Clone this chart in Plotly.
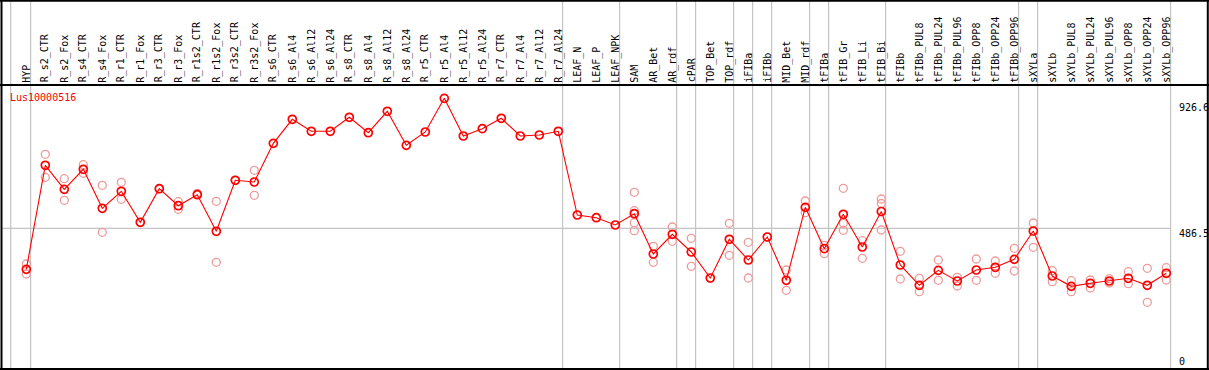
import plotly.graph_objects as go

# ---------------- data ----------------
categories = [
    "HYP", "R_s2_CTR", "R_s2_Fox", "R_s4_CTR", "R_s4_Fox", "R_r1_CTR", "R_r1_Fox",
    "R_r3_CTR", "R_r3_Fox", "R_r1s2_CTR", "R_r1s2_Fox", "R_r3s2_CTR", "R_r3s2_Fox",
    "R_s6_CTR", "R_s6_Al4", "R_s6_Al12", "R_s6_Al24", "R_s8_CTR", "R_s8_Al4",
    "R_s8_Al12", "R_s8_Al24", "R_r5_CTR", "R_r5_Al4", "R_r5_Al12", "R_r5_Al24",
    "R_r7_CTR", "R_r7_Al4", "R_r7_Al12", "R_r7_Al24", "LEAF_N", "LEAF_P", "LEAF_NPK",
    "SAM", "AR_Bet", "AR_rdf", "cPAR", "TOP_Bet", "TOP_rdf", "iFIBa", "iFIBb",
    "MID_Bet", "MID_rdf", "tFIBa", "tFIB_Gr", "tFIB_Li", "tFIB_Bi", "tFIBb",
    "tFIBb_PUL8", "tFIBb_PUL24", "tFIBb_PUL96", "tFIBb_OPP8", "tFIBb_OPP24",
    "tFIBb_OPP96", "sXYLa", "sXYLb", "sXYLb_PUL8", "sXYLb_PUL24", "sXYLb_PUL96",
    "sXYLb_OPP8", "sXYLb_OPP24", "sXYLb_OPP96",
]

means = [
    343.7, 705.9, 622.3, 692.0, 556.2, 615.4, 507.4, 624.4, 565.2, 603.5, 476.1,
    653.7, 647.7, 782.5, 866.1, 824.3, 824.3, 873.1, 819.4, 894.0, 775.5, 821.9,
    939.2, 807.9, 833.4, 869.6, 807.9, 811.4, 824.3, 532.8, 523.4, 498.0, 537.3,
    397.0, 465.6, 404.0, 313.4, 448.2, 376.1, 456.2, 305.4, 559.6, 415.5, 535.3,
    421.4, 545.0, 358.7, 288.0, 340.2, 303.0, 341.3, 350.7, 378.5, 477.1, 320.4,
    284.5, 295.0, 303.0, 312.4, 288.0, 329.8,
]

replicates = [
    [362.2, 327.4], [744.2, 664.1], [659.2, 584.0], [708.0, 678.0], [636.3, 472.6],
    [646.7, 587.5], [507.0], [624.0], [579.1, 552.7], [608.4], [580.5, 368.1],
    [653.7], [688.5, 601.4], [], [], [], [], [], [], [], [], [], [], [], [], [], [],
    [], [], [], [], [], [611.9, 547.8, 506.0, 478.2], [423.8, 368.1], [491.0, 441.2],
    [451.7, 354.2], [313.0], [503.9, 392.5], [437.8, 313.4], [456.0], [341.3, 270.6],
    [581.6, 540.8], [427.3, 398.0], [625.8, 503.9, 479.5], [443.3, 382.0],
    [588.5, 572.9, 480.6], [406.4, 309.9], [312.4, 265.7], [376.1, 305.4],
    [315.9, 285.6], [379.6, 305.4], [372.6, 329.8], [416.9, 337.8], [505.0, 420.3],
    [338.8, 300.5], [304.0, 265.7], [306.5, 278.6], [311.0, 296.0], [335.4, 293.6],
    [347.2, 228.8], [349.3, 306.5],
]

# indices of categories after which a group separator is drawn
group_ends = [0, 28, 31, 34, 35, 37, 38, 39, 41, 42, 45, 52, 53, 60]

gene_name = "Lus10000516"
axis_ticks = [926.6, 486.5, 0]
grid_values = [486.5]

# ---------------- pixel geometry ----------------
W, H = 1209, 370
X0, DX = 26.3, 19.0          # pixel x of first category, spacing
Y_ZERO, K = 368.0, 0.28715   # pixel y of value 0, px per unit


def px_x(p):
    return (p - X0) / DX


def px_y(p):
    return (Y_ZERO - p) / K


x_range = [px_x(0), px_x(W)]
y_range = [px_y(H), px_y(0)]

RED = "#ff0000"
PINK = "#ee9a9a"
GRAY = "#c4c4c4"
FONT = "DejaVu Sans Mono"

fig = go.Figure()

# replicate points
rx, ry = [], []
for i, reps in enumerate(replicates):
    for v in reps:
        rx.append(i)
        ry.append(v)
fig.add_trace(go.Scatter(
    x=rx, y=ry, mode="markers",
    marker=dict(symbol="circle-open", size=8, color=PINK, line=dict(width=1.3, color=PINK)),
    hoverinfo="skip", showlegend=False,
))

# mean line
fig.add_trace(go.Scatter(
    x=list(range(len(categories))), y=means, mode="lines+markers",
    line=dict(color=RED, width=1.1),
    marker=dict(symbol="circle-open", size=8, color=RED, line=dict(width=1.7, color=RED)),
    hoverinfo="skip", showlegend=False,
))

shapes = []
# horizontal grid line(s)
for g in grid_values:
    shapes.append(dict(type="line", xref="x", yref="y", x0=px_x(1), x1=px_x(1171),
                       y0=g, y1=g, line=dict(color=GRAY, width=1.2), layer="below"))
# vertical group separators
sep_px = [10.7] + [X0 + DX * i + 4.3 for i in group_ends]
for sp in sep_px:
    shapes.append(dict(type="line", xref="x", yref="y", x0=px_x(sp), x1=px_x(sp),
                       y0=px_y(0), y1=px_y(H), line=dict(color=GRAY, width=1.2), layer="below"))
# frame and header separator
for (xa, ya, xb, yb) in [(1.5, 0.5, 1.5, 369), (0, 0.7, W, 0.7), (0, 85, W, 85),
                         (0, 369, W, 369), (1207.8, 0, 1207.8, 369)]:
    shapes.append(dict(type="line", xref="x", yref="y", x0=px_x(xa), x1=px_x(xb),
                       y0=px_y(ya), y1=px_y(yb), line=dict(color="black", width=2), layer="above"))

annotations = []
for i, c in enumerate(categories):
    annotations.append(dict(x=i, y=px_y(83.5), xref="x", yref="y", text=c, textangle=-90,
                            showarrow=False, xanchor="center", yanchor="bottom",
                            font=dict(family=FONT, size=10, color="black"), borderpad=0))
annotations.append(dict(x=px_x(8.5), y=px_y(97.5), xref="x", yref="y", text=gene_name,
                        showarrow=False, xanchor="left", yanchor="middle",
                        font=dict(family=FONT, size=10, color=RED), borderpad=0))
tick_label_py = [107.5, 233, 361.5]
for v, py in zip(axis_ticks, tick_label_py):
    annotations.append(dict(x=px_x(1177.5), y=px_y(py), xref="x", yref="y",
                            text=("%g" % v) if v == 0 else f"{v:.1f}",
                            showarrow=False, xanchor="left", yanchor="middle",
                            font=dict(family=FONT, size=10, color="black"), borderpad=0))

fig.update_layout(
    width=W, height=H, margin=dict(l=0, r=0, t=0, b=0),
    paper_bgcolor="white", plot_bgcolor="white",
    xaxis=dict(range=x_range, visible=False, fixedrange=True),
    yaxis=dict(range=y_range, visible=False, fixedrange=True),
    shapes=shapes, annotations=annotations, showlegend=False,
)

fig.write_html(
    "out.html",
    config={"displayModeBar": False},
    post_script="document.body.style.margin='0';document.body.style.overflow='hidden';",
)
